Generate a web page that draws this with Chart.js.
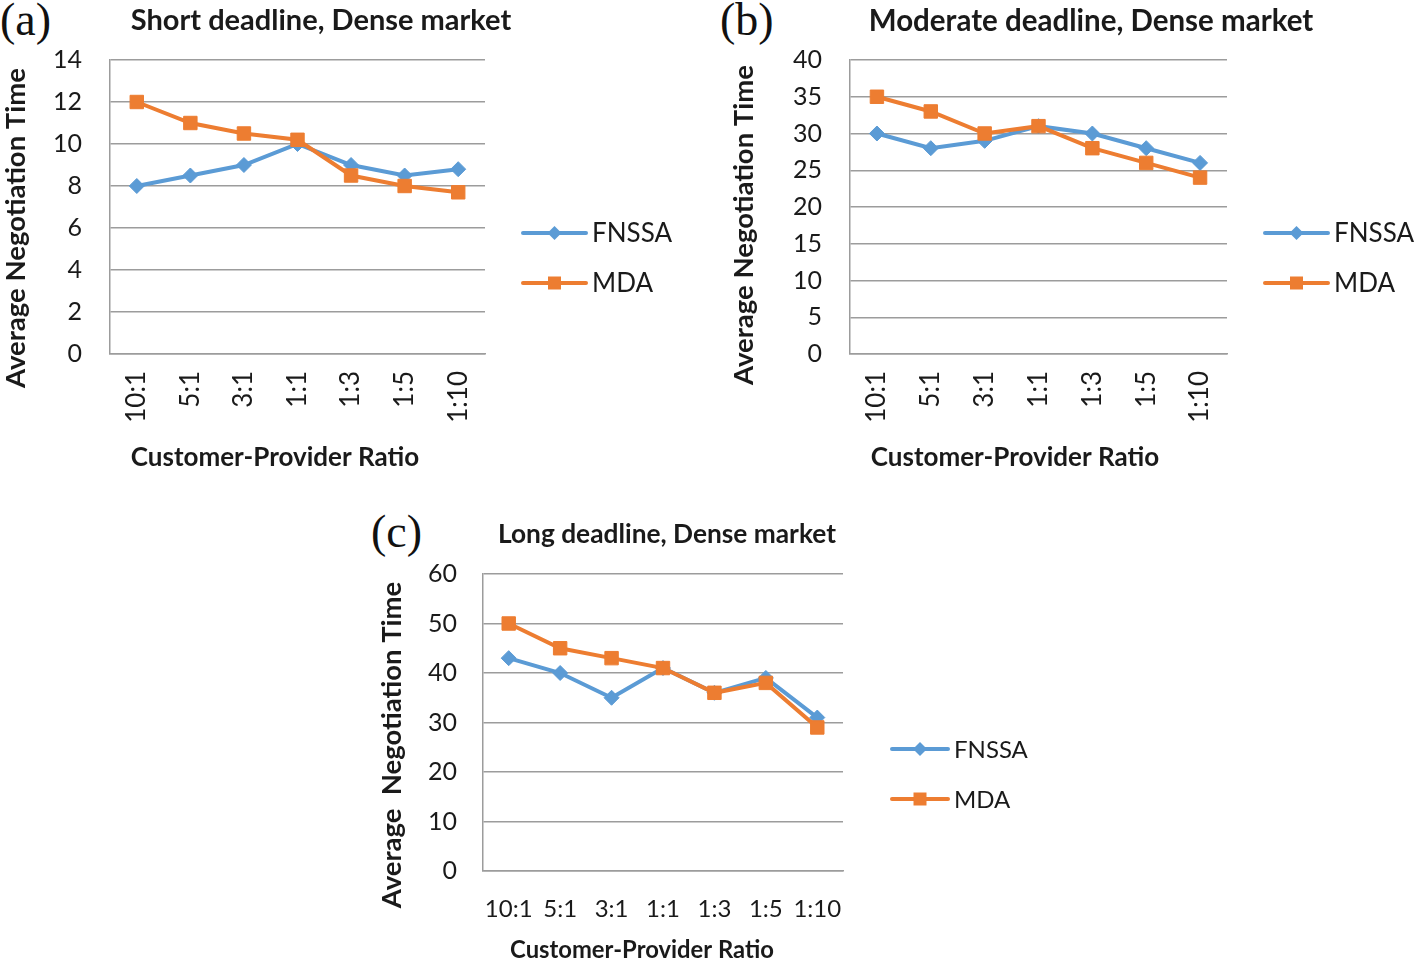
<!DOCTYPE html>
<html><head><meta charset="utf-8">
<script src="https://cdn.jsdelivr.net/npm/chart.js@4.4.0/dist/chart.umd.min.js"></script>
<style>
html,body{margin:0;padding:0;background:#fff;}
#wrap{position:relative;width:1418px;height:961px;overflow:hidden;background:#fff;}
canvas{position:absolute;}
.pl{position:absolute;font-family:"Liberation Serif","DejaVu Serif",serif;font-size:46px;color:#111;line-height:1;}
</style></head><body>
<div id="wrap">
  <div class="pl" style="left:0px;top:-3px">(a)</div>
  <div class="pl" style="left:720px;top:-3px">(b)</div>
  <div class="pl" style="left:371px;top:509px">(c)</div>
  <canvas id="ca" width="709" height="490" style="left:0;top:0"></canvas>
  <canvas id="cb" width="709" height="490" style="left:709px;top:0"></canvas>
  <canvas id="cc" width="800" height="471" style="left:300px;top:490px"></canvas>
</div>
<script>
// ---- data ----
const categories = ['10:1', '5:1', '3:1', '1:1', '1:3', '1:5', '1:10'];
const seriesNames = ['FNSSA', 'MDA'];
const shortFNSSA = [8, 8.5, 9, 10, 9, 8.5, 8.8];
const shortMDA = [12, 11, 10.5, 10.2, 8.5, 8, 7.7];
const moderateFNSSA = [30, 28, 29, 31, 30, 28, 26];
const moderateMDA = [35, 33, 30, 31, 28, 26, 24];
const longFNSSA = [43, 40, 35, 41, 36, 39, 31];
const longMDA = [50, 45, 43, 41, 36, 38, 29];
const titles = ['Short deadline, Dense market', 'Moderate deadline, Dense market', 'Long deadline, Dense market'];
const yTitles = ['Average Negotiation Time', 'Average Negotiation Time', 'Average  Negotiation Time'];
const xTitle = 'Customer-Provider Ratio';

// ---- styles ----
const FONT = 'Lato, "Open Sans", "Liberation Sans", sans-serif';
const BLUE = '#5B9BD5', ORANGE = '#ED7D31', GRID = '#9c9c9c', TXT = '#1a1a1a';

const decor = {
  id: 'decor',
  afterDraw(chart, args, o) {
    const ctx = chart.ctx;
    ctx.save();
    ctx.fillStyle = TXT;
    ctx.textAlign = 'center';
    ctx.textBaseline = 'middle';
    ctx.font = 'bold ' + o.titleSize + 'px ' + FONT;
    ctx.fillText(o.title, o.titleX, o.titleY);
    ctx.font = 'bold ' + o.axisSize + 'px ' + FONT;
    ctx.fillText(o.xTitle, o.xTitleX, o.xTitleY);
    ctx.save();
    ctx.translate(o.yTitleX, o.yTitleY);
    ctx.rotate(-Math.PI / 2);
    ctx.font = 'bold ' + o.yAxisSize + 'px ' + FONT;
    ctx.fillText(o.yTitle, 0, 0);
    ctx.restore();
    // legend
    chart.data.datasets.forEach((ds, i) => {
      const y = o.legY + i * o.legGap;
      ctx.strokeStyle = ds.borderColor;
      ctx.lineWidth = 4;
      ctx.lineCap = 'round';
      ctx.beginPath();
      ctx.moveTo(o.legX0, y);
      ctx.lineTo(o.legX1, y);
      ctx.stroke();
      const cx = (o.legX0 + o.legX1) / 2;
      ctx.fillStyle = ds.borderColor;
      ctx.beginPath();
      if (ds.pointStyle === 'rectRot') {
        const r = 7;
        ctx.moveTo(cx, y - r); ctx.lineTo(cx + r, y); ctx.lineTo(cx, y + r); ctx.lineTo(cx - r, y); ctx.closePath();
      } else {
        ctx.rect(cx - 6.5, y - 6.5, 13, 13);
      }
      ctx.fill();
      ctx.fillStyle = TXT;
      ctx.textAlign = 'left';
      ctx.font = o.legSize + 'px ' + FONT;
      ctx.fillText(ds.label, o.legX1 + 6, y + 1);
    });
    ctx.restore();
  }
};

function makeChart(id, fn, mda, cfg) {
  const ctx = document.getElementById(id);
  return new Chart(ctx, {
    type: 'line',
    data: {
      labels: categories,
      datasets: [
        { label: seriesNames[0], data: fn, borderColor: BLUE, backgroundColor: BLUE, borderWidth: 4,
          pointStyle: 'rectRot', pointRadius: 7.5, pointBackgroundColor: BLUE, pointBorderColor: BLUE, pointBorderWidth: 1,
          tension: 0, order: 1 },
        { label: seriesNames[1], data: mda, borderColor: ORANGE, backgroundColor: ORANGE, borderWidth: 4,
          pointStyle: 'rect', pointRadius: 9.5, pointBackgroundColor: ORANGE, pointBorderColor: ORANGE, pointBorderWidth: 1,
          tension: 0, order: 0 }
      ]
    },
    options: {
      responsive: false,
      animation: false,
      events: [],
      layout: { padding: { top: cfg.top, right: cfg.right, left: 0, bottom: 0 } },
      plugins: {
        legend: { display: false },
        tooltip: { enabled: false },
        decor: cfg.decor
      },
      scales: {
        x: {
          offset: true,
          grid: { display: false, drawTicks: false },
          border: { display: true, color: GRID, width: 1.5 },
          ticks: { autoSkip: false, minRotation: cfg.rot, maxRotation: cfg.rot, padding: cfg.xPad,
                   color: TXT, font: { family: FONT, size: cfg.xTickSize } },
          afterFit(s) { s.height = cfg.xHeight; }
        },
        y: {
          min: 0, max: cfg.max,
          grid: { color: GRID, lineWidth: 1.5, drawTicks: false },
          border: { display: true, color: GRID, width: 1.5 },
          ticks: { stepSize: cfg.step, padding: cfg.yPad, color: TXT, font: { family: FONT, size: cfg.yTickSize } },
          afterFit(s) { s.width = cfg.yWidth; }
        }
      }
    },
    plugins: [decor]
  });
}

makeChart('ca', shortFNSSA, shortMDA, {
  top: 60, right: 224, yWidth: 110, xHeight: 136, max: 14, step: 2, rot: 90, xPad: 17, yPad: 28,
  xTickSize: 26, yTickSize: 25,
  decor: { title: titles[0], titleX: 321, titleY: 21, titleSize: 29,
    yTitle: yTitles[0], yTitleX: 16, yTitleY: 228, yAxisSize: 27.5,
    xTitle: xTitle, xTitleX: 275, xTitleY: 458, axisSize: 26,
    legX0: 523, legX1: 586, legY: 233, legGap: 50, legSize: 26 }
});
makeChart('cb', moderateFNSSA, moderateMDA, {
  top: 60, right: 191, yWidth: 141, xHeight: 136, max: 40, step: 5, rot: 90, xPad: 17, yPad: 28,
  xTickSize: 26, yTickSize: 25,
  decor: { title: titles[1], titleX: 1091 - 709, titleY: 21, titleSize: 29.5,
    yTitle: yTitles[1], yTitleX: 35, yTitleY: 225, yAxisSize: 27.5,
    xTitle: xTitle, xTitleX: 306, xTitleY: 458, axisSize: 26,
    legX0: 556, legX1: 619, legY: 233, legGap: 50, legSize: 26 }
});
makeChart('cc', longFNSSA, longMDA, {
  top: 84, right: 257, yWidth: 183, xHeight: 90, max: 60, step: 10, rot: 0, xPad: 24, yPad: 26,
  xTickSize: 24, yTickSize: 25,
  decor: { title: titles[2], titleX: 367, titleY: 45, titleSize: 26.3,
    yTitle: yTitles[2], yTitleX: 92, yTitleY: 255, yAxisSize: 27.5,
    xTitle: xTitle, xTitleX: 342, xTitleY: 460, axisSize: 23.8,
    legX0: 592, legX1: 648, legY: 259, legGap: 50, legSize: 24 }
});
</script>
</body></html>
